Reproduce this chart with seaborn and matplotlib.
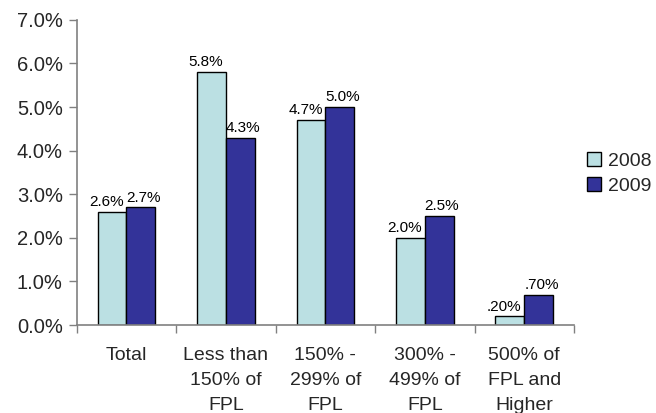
import matplotlib
matplotlib.use("Agg")
import matplotlib.pyplot as plt
import seaborn as sns
import pandas as pd
from matplotlib.ticker import FuncFormatter, MultipleLocator

categories = ["Total", "Less than\n150% of\nFPL", "150% -\n299% of\nFPL",
              "300% -\n499% of\nFPL", "500% of\nFPL and\nHigher"]
series = ["2008", "2009"]
values_2008 = [2.6, 5.8, 4.7, 2.0, 0.2]
values_2009 = [2.7, 4.3, 5.0, 2.5, 0.7]
labels_2008 = ["2.6%", "5.8%", "4.7%", "2.0%", ".20%"]
labels_2009 = ["2.7%", "4.3%", "5.0%", "2.5%", ".70%"]

df = pd.DataFrame({
    "category": categories * 2,
    "year": [series[0]] * len(categories) + [series[1]] * len(categories),
    "value": values_2008 + values_2009,
})

sns.set_style("white")
plt.rcParams["font.family"] = ["Liberation Sans", "DejaVu Sans"]

fig = plt.figure(figsize=(6.56, 4.13), dpi=100)
ax = fig.add_axes([0.117, 0.213, 0.758, 0.739])

palette = {"2008": "#BBE0E3", "2009": "#333399"}
sns.barplot(data=df, x="category", y="value", hue="year", order=categories,
            hue_order=series, palette=palette, width=0.58, edgecolor="black",
            linewidth=1.0, saturation=1, ax=ax, legend=True)

for cont, labs, dx in zip(ax.containers, [labels_2008, labels_2009], [-4, 2]):
    texts = ax.bar_label(cont, labels=labs, padding=2, fontsize=11, color="black")
    for t in texts:
        t.xyann = (dx, t.xyann[1])

ax.set_ylim(0, 7)
ax.set_xlim(-0.5, len(categories) - 0.5)
ax.yaxis.set_major_locator(MultipleLocator(1))
ax.yaxis.set_major_formatter(FuncFormatter(lambda v, p: f"{v:.1f}%"))
ax.set_xlabel("")
ax.set_ylabel("")

for s in ["top", "right"]:
    ax.spines[s].set_visible(False)
for s in ["left", "bottom"]:
    ax.spines[s].set_color("#808080")
    ax.spines[s].set_linewidth(1.2)

ax.tick_params(axis="y", which="major", left=True, length=6, width=1, color="#808080",
               labelsize=14.5, pad=4)
ax.set_xticks([i - 0.5 for i in range(len(categories) + 1)], minor=True)
ax.tick_params(axis="x", which="minor", bottom=True, length=6, width=1, color="#808080")
ax.tick_params(axis="x", which="major", bottom=False, labelsize=14, pad=12)
for lab in ax.get_xticklabels():
    lab.set_linespacing(1.62)
    lab.set_verticalalignment("top")

handles, labs = ax.get_legend_handles_labels()
ax.legend(handles, labs, loc="center left", bbox_to_anchor=(0.895, 0.58),
          bbox_transform=fig.transFigure, frameon=False, fontsize=14,
          handlelength=0.7, handleheight=0.7, handletextpad=0.35, labelspacing=0.4,
          borderaxespad=0, borderpad=0)

fig.savefig("out.png", dpi=100)
